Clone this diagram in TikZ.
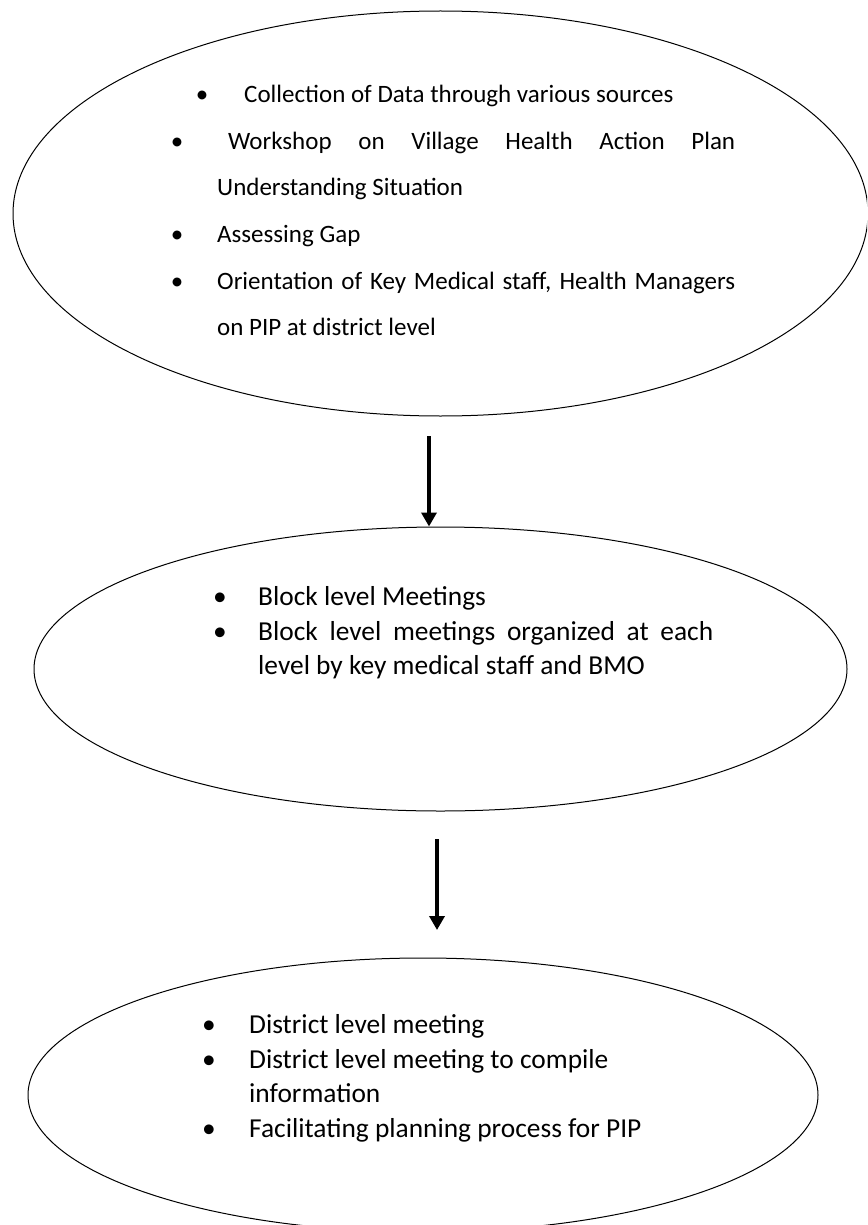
\documentclass[tikz,border=0pt]{standalone}
\usepackage{fontspec}
\setmainfont{Carlito}
\usetikzlibrary{shapes.geometric,arrows.meta}
\tikzset{
  oval/.style={draw=black, line width=1pt, ellipse, inner sep=0pt},
  arr/.style={line width=4pt, -{Triangle[width=15pt,length=14pt]}},
  txtA/.style={anchor=base west, inner sep=0pt, font=\fontsize{25}{30}\selectfont},
  bulA/.style={anchor=base, inner sep=0pt, font=\fontsize{25}{30}\selectfont},
  txtB/.style={anchor=base west, inner sep=0pt, font=\fontsize{27.4}{34}\selectfont},
  bulB/.style={anchor=base, inner sep=0pt, font=\fontsize{27.4}{34}\selectfont},
}
\begin{document}
\begin{tikzpicture}[x=1pt,y=-1pt]
\useasboundingbox (0,0) rectangle (867,1225);
\clip (0,0) rectangle (867,1225);
\fill[white] (0,0) rectangle (867,1225);
% ellipses
\node[oval, minimum width=855pt, minimum height=405pt] (top) at (440.5,213.5) {};
\node[oval, minimum width=813pt, minimum height=284pt] (mid) at (440.5,669) {};
\node[oval, minimum width=790pt, minimum height=274pt] (bot) at (423,1095) {};
% top text
\node[bulA] (b1) at (202,103) {•};
\node[txtA] (l1) at (244,103) {Collection of Data through various sources};
\node[bulA] (b2) at (177,150) {•};
\node[txtA] (l2) at (228,150) {\makebox[507pt][s]{Workshop on Village Health Action Plan}};
\node[txtA] (l3) at (217,196) {Understanding Situation};
\node[bulA] (b3) at (177,242) {•};
\node[txtA] (l4) at (217,242) {Assessing Gap};
\node[bulA] (b4) at (177,289) {•};
\node[txtA] (l5) at (217,289) {\makebox[518pt][s]{Orientation of Key Medical staff, Health Managers}};
\node[txtA] (l6) at (217,335) {on PIP at district level};
% middle text
\node[bulB] (m1b) at (220,605) {•};
\node[txtB] (m1) at (258,605) {Block level Meetings};
\node[bulB] (m2b) at (220,640) {•};
\node[txtB] (m2) at (258,640) {\makebox[455pt][s]{Block level meetings organized at each}};
\node[txtB] (m3) at (258,674) {level by key medical staff and BMO};
% bottom text
\node[bulB] (d1b) at (209,1033) {•};
\node[txtB] (d1) at (249,1033) {District level meeting};
\node[bulB] (d2b) at (209,1068) {•};
\node[txtB] (d2) at (249,1068) {District level meeting to compile};
\node[txtB] (d3) at (249,1102) {information};
\node[bulB] (d4b) at (209,1137) {•};
\node[txtB] (d4) at (249,1137) {Facilitating planning process for PIP};
% arrows
\coordinate (a1s) at (429,436);
\draw[arr] (a1s) -- (a1s |- mid.north);
\coordinate (a2s) at (437,839);
\coordinate (a2e) at (437,930);
\draw[arr] (a2s) -- (a2e);
\end{tikzpicture}
\end{document}
